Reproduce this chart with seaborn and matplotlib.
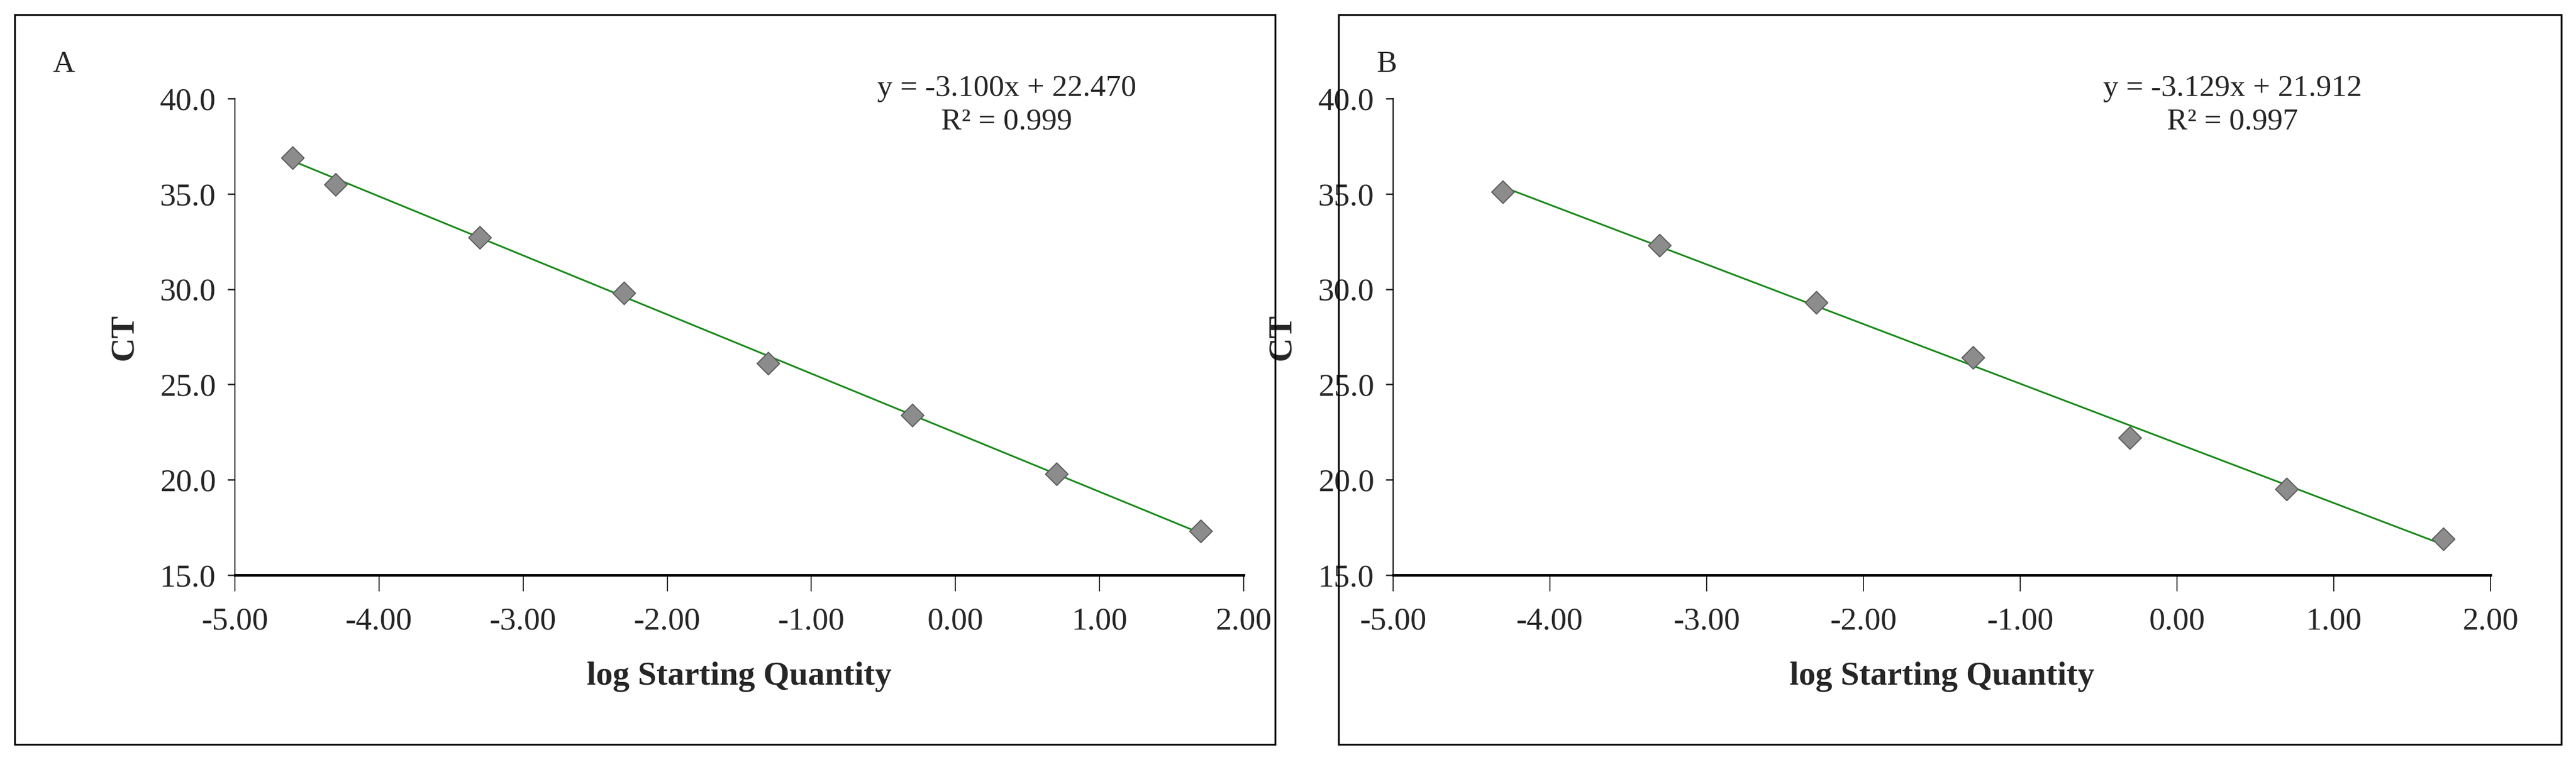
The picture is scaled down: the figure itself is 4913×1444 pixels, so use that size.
import matplotlib
matplotlib.use("Agg")
import matplotlib.pyplot as plt
import numpy as np
import pandas as pd
import seaborn as sns
from matplotlib.patches import Rectangle
from matplotlib.ticker import FormatStrFormatter

# panel A
a_x = [-4.6, -4.3, -3.3, -2.3, -1.3, -0.3, 0.7, 1.7]
a_ct = [36.9, 35.5, 32.7, 29.8, 26.1, 23.4, 20.3, 17.3]
a_slope, a_icpt, a_r2 = -3.100, 22.470, 0.999

# panel B
b_x = [-4.3, -3.3, -2.3, -1.3, -0.3, 0.7, 1.7]
b_ct = [35.1, 32.3, 29.3, 26.4, 22.2, 19.5, 16.9]
b_slope, b_icpt, b_r2 = -3.129, 21.912, 0.997

sns.set_theme(style="white")
plt.rcParams["font.family"] = ["Liberation Serif", "DejaVu Serif"]

W, H = 4913, 1444
fig = plt.figure(figsize=(W / 100, H / 100), dpi=100)


def fx(px):
    return px / W


def fy(py):
    return 1 - py / H


def panel(box, axbox, letter, xs, ys, slope, icpt, r2):
    x0, y0, x1, y1 = box
    fig.patches.append(Rectangle((fx(x0), fy(y1)), fx(x1 - x0), fy(y0) - fy(y1),
                                 transform=fig.transFigure, fill=False,
                                 edgecolor="black", linewidth=2.5))
    ax0, ay0, ax1, ay1 = axbox
    ax = fig.add_axes([fx(ax0), fy(ay1), fx(ax1 - ax0), fy(ay0) - fy(ay1)])
    df = pd.DataFrame({"x": xs, "ct": ys})
    fit = pd.DataFrame({"x": [min(xs), max(xs)]})
    fit["ct"] = slope * fit["x"] + icpt
    sns.lineplot(data=fit, x="x", y="ct", ax=ax, color="#1a8a1a", linewidth=2.4)
    sns.scatterplot(data=df, x="x", y="ct", ax=ax, marker="D", s=480,
                    color="#8c8c8c", edgecolor="#5a5a5a", linewidth=1.5, zorder=3)
    ax.set_xlim(-5, 2)
    ax.set_ylim(15, 40)
    ax.set_xticks(np.arange(-5, 2.01, 1))
    ax.set_yticks(np.arange(15, 40.01, 5))
    ax.xaxis.set_major_formatter(FormatStrFormatter("%.2f"))
    ax.yaxis.set_major_formatter(FormatStrFormatter("%.1f"))
    for s in ("top", "right"):
        ax.spines[s].set_visible(False)
    ax.spines["left"].set_linewidth(1.5)
    ax.spines["bottom"].set_linewidth(3.5)
    for s in ("left", "bottom"):
        ax.spines[s].set_color("black")
    ax.tick_params(axis="x", direction="out", length=22, width=1.5, pad=22,
                   labelsize=44, bottom=True)
    ax.tick_params(axis="y", direction="out", length=10, width=2, pad=16,
                   labelsize=44, left=True)
    ax.set_xlabel("log Starting Quantity", fontsize=46, fontweight="bold", labelpad=35)
    ax.set_ylabel("CT", fontsize=46, fontweight="bold", labelpad=28)
    sign = "-" if icpt < 0 else "+"
    ax.text(0.765, 1.05, f"y = {slope:.3f}x {sign} {abs(icpt):.3f}\nR² = {r2:.3f}",
            transform=ax.transAxes, ha="center", va="top", fontsize=42,
            linespacing=1.3)
    fig.text(fx(x0 + 72), fy(y0 + 95), letter, fontsize=42, va="center")
    return ax


panel((28, 28, 2432, 1420), (448, 188, 2372, 1097), "A", a_x, a_ct, a_slope, a_icpt, a_r2)
panel((2553, 28, 4885, 1420), (2657, 188, 4750, 1097), "B", b_x, b_ct, b_slope, b_icpt, b_r2)

fig.savefig("out.png", dpi=100)
